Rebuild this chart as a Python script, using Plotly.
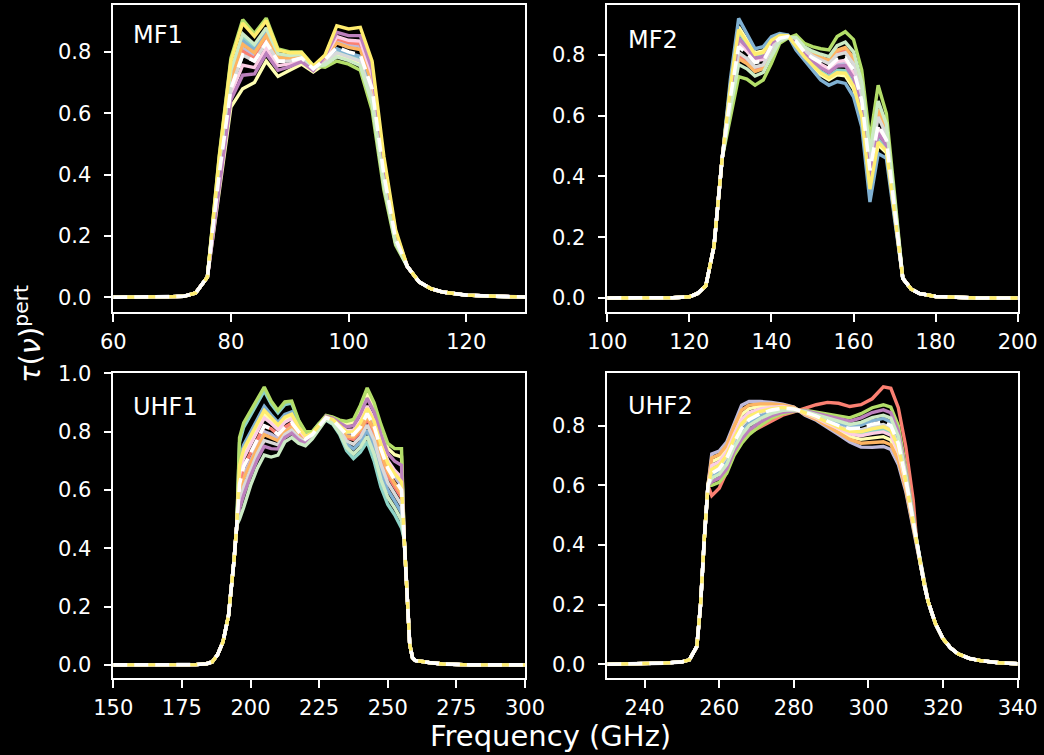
import plotly.graph_objects as go

SET3 = ["#8dd3c7", "#ffffb3", "#bebada", "#fb8072", "#80b1d3", "#fdb462",
        "#b3de69", "#fccde5", "#d9d9d9", "#bc80bd", "#ccebc5", "#ffed6f"]

# ---------------- MF1 ----------------
mf1_f_lo = [60, 64, 68, 70, 72, 74, 76]
mf1_y_lo = [0.0, 0.0, 0.001, 0.002, 0.003, 0.014, 0.066]
mf1_f_band = [78, 80, 82, 84, 86, 88, 90, 92, 94, 96, 98, 100, 102, 104, 106, 108]
mf1_f_hi = [110, 112, 114, 116, 120, 125, 130]
mf1_y_hi = [0.10, 0.05, 0.028, 0.017, 0.007, 0.003, 0.001]
mf1_nominal = [0.40, 0.68, 0.79, 0.77, 0.83, 0.77, 0.77, 0.78, 0.745, 0.775, 0.815, 0.80, 0.79, 0.68, 0.40, 0.19]
mf1_curves = [
    [0.43, 0.73, 0.848, 0.815, 0.87, 0.79, 0.785, 0.79, 0.75, 0.768, 0.80, 0.788, 0.775, 0.659, 0.385, 0.184],
    [0.34, 0.62, 0.68, 0.70, 0.77, 0.72, 0.74, 0.76, 0.735, 0.76, 0.788, 0.776, 0.76, 0.638, 0.37, 0.178],
    [0.412, 0.70, 0.813, 0.788, 0.846, 0.778, 0.776, 0.784, 0.747, 0.78, 0.836, 0.823, 0.817, 0.707, 0.418, 0.199],
    [0.406, 0.69, 0.802, 0.779, 0.838, 0.774, 0.773, 0.782, 0.746, 0.781, 0.843, 0.83, 0.826, 0.716, 0.424, 0.202],
    [0.424, 0.72, 0.836, 0.806, 0.862, 0.786, 0.782, 0.788, 0.749, 0.773, 0.81, 0.796, 0.785, 0.673, 0.395, 0.188],
    [0.418, 0.71, 0.825, 0.797, 0.854, 0.782, 0.779, 0.786, 0.748, 0.778, 0.829, 0.815, 0.808, 0.698, 0.412, 0.196],
    [0.46, 0.78, 0.905, 0.86, 0.91, 0.81, 0.80, 0.80, 0.755, 0.75, 0.77, 0.76, 0.74, 0.61, 0.35, 0.17],
    [0.382, 0.662, 0.757, 0.749, 0.812, 0.755, 0.761, 0.774, 0.742, 0.783, 0.85, 0.838, 0.835, 0.725, 0.43, 0.205],
    [0.40, 0.68, 0.79, 0.77, 0.83, 0.77, 0.77, 0.78, 0.745, 0.765, 0.797, 0.784, 0.77, 0.652, 0.38, 0.182],
    [0.364, 0.644, 0.724, 0.728, 0.794, 0.74, 0.752, 0.768, 0.739, 0.786, 0.864, 0.853, 0.853, 0.743, 0.442, 0.211],
    [0.436, 0.74, 0.859, 0.824, 0.878, 0.794, 0.788, 0.792, 0.751, 0.758, 0.784, 0.772, 0.755, 0.631, 0.365, 0.176],
    [0.454, 0.77, 0.894, 0.851, 0.902, 0.806, 0.797, 0.798, 0.754, 0.79, 0.885, 0.875, 0.88, 0.77, 0.46, 0.22],
]

# ---------------- MF2 ----------------
mf2_f_lo = [100, 110, 116, 120, 122, 124, 126, 128]
mf2_y_lo = [0.0, 0.0, 0.001, 0.004, 0.015, 0.04, 0.17, 0.46]
mf2_f_band = [130, 132, 134, 136, 138, 140, 142, 144, 146, 148, 150, 152, 154, 156, 158, 160, 162, 164, 166, 168, 170]
mf2_f_hi = [172, 174, 176, 180, 185, 190, 200]
mf2_y_hi = [0.065, 0.03, 0.015, 0.005, 0.002, 0.0, 0.0]
mf2_nominal = [0.66, 0.827, 0.805, 0.775, 0.78, 0.83, 0.855, 0.86, 0.845, 0.81, 0.79, 0.775, 0.76, 0.785, 0.79, 0.75, 0.65, 0.42, 0.57, 0.52, 0.30]
mf2_curves = [
    [0.69, 0.874, 0.838, 0.798, 0.804, 0.845, 0.863, 0.863, 0.831, 0.797, 0.77, 0.746, 0.73, 0.749, 0.748, 0.706, 0.607, 0.368, 0.523, 0.49, 0.28],
    [0.702, 0.892, 0.851, 0.807, 0.813, 0.851, 0.866, 0.864, 0.825, 0.791, 0.762, 0.734, 0.718, 0.734, 0.731, 0.688, 0.589, 0.347, 0.504, 0.478, 0.272],
    [0.672, 0.846, 0.818, 0.784, 0.789, 0.836, 0.858, 0.861, 0.839, 0.805, 0.782, 0.763, 0.748, 0.770, 0.773, 0.732, 0.633, 0.399, 0.551, 0.508, 0.292],
    [0.642, 0.797, 0.78, 0.753, 0.761, 0.813, 0.85, 0.859, 0.851, 0.818, 0.801, 0.789, 0.777, 0.808, 0.816, 0.78, 0.68, 0.45, 0.609, 0.546, 0.312],
    [0.72, 0.92, 0.87, 0.82, 0.827, 0.86, 0.87, 0.865, 0.816, 0.783, 0.75, 0.717, 0.70, 0.712, 0.706, 0.662, 0.563, 0.316, 0.475, 0.46, 0.26],
    [0.636, 0.787, 0.771, 0.745, 0.755, 0.807, 0.848, 0.858, 0.853, 0.821, 0.805, 0.793, 0.782, 0.815, 0.824, 0.79, 0.69, 0.46, 0.622, 0.555, 0.316],
    [0.60, 0.728, 0.72, 0.70, 0.717, 0.772, 0.838, 0.855, 0.865, 0.838, 0.827, 0.82, 0.816, 0.86, 0.876, 0.85, 0.75, 0.52, 0.70, 0.607, 0.34],
    [0.666, 0.836, 0.812, 0.78, 0.785, 0.833, 0.857, 0.86, 0.842, 0.807, 0.786, 0.769, 0.754, 0.778, 0.782, 0.741, 0.641, 0.41, 0.56, 0.514, 0.296],
    [0.648, 0.807, 0.788, 0.76, 0.767, 0.818, 0.852, 0.859, 0.849, 0.816, 0.797, 0.784, 0.771, 0.80, 0.807, 0.77, 0.67, 0.44, 0.596, 0.537, 0.308],
    [0.678, 0.855, 0.825, 0.789, 0.794, 0.839, 0.86, 0.862, 0.836, 0.802, 0.778, 0.758, 0.742, 0.763, 0.765, 0.724, 0.624, 0.389, 0.542, 0.502, 0.288],
    [0.624, 0.768, 0.754, 0.73, 0.742, 0.795, 0.845, 0.857, 0.857, 0.827, 0.812, 0.802, 0.794, 0.83, 0.842, 0.81, 0.71, 0.48, 0.648, 0.572, 0.324],
    [0.696, 0.883, 0.844, 0.802, 0.808, 0.848, 0.864, 0.863, 0.828, 0.794, 0.766, 0.74, 0.724, 0.741, 0.74, 0.697, 0.598, 0.358, 0.513, 0.484, 0.276],
]

# ---------------- UHF1 ----------------
uhf1_f_lo = [150, 160, 170, 180, 184, 186, 188, 190, 192, 193, 194, 195]
uhf1_y_lo = [0.0, 0.0, 0.0, 0.001, 0.004, 0.01, 0.035, 0.08, 0.17, 0.26, 0.36, 0.48]
uhf1_f_band = [196, 197.5, 200, 202.5, 205, 207.5, 210, 212.5, 215, 217.5, 220, 222.5, 225,
               227.5, 230, 232.5, 235, 237.5, 240, 242.5, 245, 247.5, 250, 252.5, 255]
uhf1_f_hi = [256, 257, 258, 259, 260, 265, 270, 280, 300]
uhf1_y_hi = [0.43, 0.25, 0.07, 0.025, 0.015, 0.008, 0.003, 0.0, 0.0]
uhf1_nominal = [0.62, 0.68, 0.725, 0.775, 0.82, 0.81, 0.79, 0.815, 0.83, 0.80, 0.775, 0.79, 0.82,
                0.848, 0.84, 0.815, 0.79, 0.79, 0.815, 0.862, 0.82, 0.74, 0.675, 0.635, 0.60]
uhf1_curves = [
    [0.764, 0.815, 0.856, 0.901, 0.94, 0.896, 0.865, 0.893, 0.898, 0.836, 0.798, 0.799, 0.829, 0.84, 0.825, 0.79, 0.735, 0.708, 0.73, 0.765, 0.70, 0.61, 0.55, 0.515, 0.47],
    [0.668, 0.725, 0.769, 0.817, 0.86, 0.839, 0.815, 0.841, 0.853, 0.812, 0.783, 0.793, 0.823, 0.854, 0.848, 0.835, 0.826, 0.832, 0.875, 0.932, 0.884, 0.808, 0.743, 0.721, 0.714],
    [0.596, 0.652, 0.703, 0.755, 0.80, 0.791, 0.776, 0.805, 0.82, 0.792, 0.77, 0.787, 0.818, 0.849, 0.841, 0.818, 0.795, 0.795, 0.823, 0.871, 0.828, 0.749, 0.684, 0.646, 0.614],
    [0.62, 0.68, 0.725, 0.775, 0.82, 0.81, 0.79, 0.815, 0.83, 0.80, 0.775, 0.79, 0.82, 0.846, 0.837, 0.81, 0.779, 0.774, 0.798, 0.843, 0.796, 0.714, 0.65, 0.611, 0.574],
    [0.70, 0.755, 0.798, 0.845, 0.887, 0.858, 0.832, 0.859, 0.868, 0.82, 0.788, 0.795, 0.825, 0.843, 0.831, 0.80, 0.757, 0.741, 0.764, 0.804, 0.748, 0.662, 0.60, 0.563, 0.522],
    [0.584, 0.638, 0.692, 0.745, 0.79, 0.781, 0.769, 0.80, 0.815, 0.788, 0.768, 0.786, 0.817, 0.847, 0.839, 0.813, 0.785, 0.782, 0.807, 0.852, 0.808, 0.727, 0.663, 0.623, 0.587],
    [0.78, 0.83, 0.87, 0.915, 0.953, 0.905, 0.873, 0.902, 0.905, 0.84, 0.80, 0.80, 0.83, 0.856, 0.85, 0.84, 0.835, 0.842, 0.89, 0.95, 0.90, 0.825, 0.76, 0.742, 0.742],
    [0.652, 0.71, 0.754, 0.803, 0.847, 0.829, 0.807, 0.832, 0.845, 0.808, 0.78, 0.792, 0.822, 0.85, 0.843, 0.823, 0.804, 0.806, 0.838, 0.888, 0.844, 0.766, 0.701, 0.667, 0.643],
    [0.56, 0.61, 0.67, 0.725, 0.77, 0.762, 0.755, 0.79, 0.805, 0.78, 0.764, 0.783, 0.815, 0.845, 0.834, 0.805, 0.768, 0.757, 0.781, 0.823, 0.772, 0.688, 0.625, 0.587, 0.548],
    [0.536, 0.582, 0.648, 0.705, 0.75, 0.742, 0.741, 0.78, 0.795, 0.772, 0.759, 0.78, 0.813, 0.853, 0.846, 0.83, 0.817, 0.821, 0.86, 0.915, 0.868, 0.791, 0.726, 0.699, 0.685],
    [0.50, 0.54, 0.615, 0.675, 0.72, 0.713, 0.72, 0.765, 0.78, 0.76, 0.752, 0.775, 0.81, 0.842, 0.828, 0.795, 0.746, 0.724, 0.747, 0.784, 0.724, 0.636, 0.575, 0.539, 0.496],
    [0.684, 0.74, 0.783, 0.831, 0.873, 0.848, 0.823, 0.85, 0.86, 0.816, 0.785, 0.794, 0.824, 0.85, 0.842, 0.82, 0.799, 0.80, 0.83, 0.88, 0.836, 0.757, 0.692, 0.656, 0.628],
]

# ---------------- UHF2 ----------------
uhf2_f_lo = [230, 240, 245, 250, 252, 254, 255, 256, 257]
uhf2_y_lo = [0.0, 0.002, 0.004, 0.008, 0.015, 0.06, 0.20, 0.42, 0.60]
uhf2_f_band = [258, 260, 262, 264, 266, 268, 271, 274, 277, 280, 283, 286, 289, 292, 295, 298, 301, 304, 306, 308, 310, 312]
uhf2_f_hi = [313, 314, 315, 316, 317, 318, 320, 322, 324, 327, 330, 335, 340]
uhf2_y_hi = [0.40, 0.33, 0.265, 0.21, 0.17, 0.135, 0.085, 0.055, 0.035, 0.02, 0.012, 0.005, 0.002]
uhf2_nominal = [0.64, 0.655, 0.69, 0.745, 0.79, 0.82, 0.84, 0.852, 0.858, 0.856, 0.845, 0.832, 0.815, 0.80, 0.79, 0.792, 0.805, 0.812, 0.80, 0.74, 0.62, 0.48]
uhf2_curves = [
    [0.66, 0.673, 0.707, 0.765, 0.813, 0.838, 0.852, 0.86, 0.862, 0.858, 0.842, 0.828, 0.809, 0.791, 0.777, 0.773, 0.782, 0.787, 0.776, 0.719, 0.608, 0.474],
    [0.679, 0.691, 0.723, 0.784, 0.837, 0.857, 0.865, 0.868, 0.866, 0.86, 0.839, 0.824, 0.803, 0.782, 0.763, 0.754, 0.758, 0.763, 0.752, 0.698, 0.596, 0.468],
    [0.705, 0.715, 0.745, 0.81, 0.868, 0.881, 0.881, 0.878, 0.872, 0.862, 0.835, 0.818, 0.795, 0.77, 0.745, 0.728, 0.727, 0.73, 0.72, 0.67, 0.58, 0.46],
    [0.565, 0.59, 0.645, 0.712, 0.765, 0.775, 0.795, 0.815, 0.835, 0.846, 0.859, 0.87, 0.878, 0.875, 0.864, 0.87, 0.89, 0.93, 0.925, 0.86, 0.73, 0.55],
    [0.632, 0.646, 0.68, 0.736, 0.78, 0.81, 0.832, 0.847, 0.854, 0.854, 0.846, 0.835, 0.82, 0.806, 0.797, 0.802, 0.816, 0.824, 0.812, 0.752, 0.628, 0.484],
    [0.692, 0.703, 0.734, 0.797, 0.852, 0.869, 0.873, 0.873, 0.869, 0.861, 0.837, 0.821, 0.799, 0.776, 0.754, 0.741, 0.743, 0.746, 0.736, 0.684, 0.588, 0.464],
    [0.60, 0.61, 0.64, 0.70, 0.74, 0.77, 0.80, 0.825, 0.84, 0.848, 0.852, 0.845, 0.84, 0.832, 0.826, 0.84, 0.86, 0.87, 0.862, 0.80, 0.66, 0.50],
    [0.666, 0.679, 0.712, 0.771, 0.821, 0.844, 0.856, 0.862, 0.864, 0.858, 0.841, 0.826, 0.807, 0.788, 0.772, 0.766, 0.774, 0.779, 0.768, 0.712, 0.604, 0.472],
    [0.647, 0.661, 0.696, 0.752, 0.798, 0.826, 0.844, 0.855, 0.859, 0.857, 0.844, 0.831, 0.813, 0.797, 0.786, 0.786, 0.797, 0.804, 0.792, 0.733, 0.616, 0.478],
    [0.612, 0.624, 0.655, 0.714, 0.755, 0.785, 0.812, 0.833, 0.845, 0.85, 0.85, 0.841, 0.833, 0.822, 0.815, 0.826, 0.844, 0.853, 0.843, 0.782, 0.648, 0.494],
    [0.624, 0.637, 0.67, 0.727, 0.77, 0.80, 0.824, 0.841, 0.851, 0.853, 0.848, 0.837, 0.825, 0.813, 0.804, 0.811, 0.827, 0.835, 0.825, 0.764, 0.636, 0.488],
    [0.653, 0.667, 0.701, 0.758, 0.806, 0.832, 0.848, 0.857, 0.861, 0.857, 0.843, 0.829, 0.811, 0.794, 0.781, 0.779, 0.789, 0.796, 0.784, 0.726, 0.612, 0.476],
]

band_names = ["MF1", "MF2", "UHF1", "UHF2"]
x_ticks = [[60, 80, 100, 120], [100, 120, 140, 160, 180, 200],
           [150, 175, 200, 225, 250, 275, 300], [240, 260, 280, 300, 320, 340]]
x_ranges = [[60, 130], [100, 200], [150, 300], [230, 340]]
y_ranges = [[-0.048, 0.953], [-0.046, 0.964], [-0.046, 1.002], [-0.047, 0.977]]
y_ticks = [[0, 0.2, 0.4, 0.6, 0.8], [0, 0.2, 0.4, 0.6, 0.8],
           [0, 0.2, 0.4, 0.6, 0.8, 1.0], [0, 0.2, 0.4, 0.6, 0.8]]

bands = [
    (mf1_f_lo, mf1_y_lo, mf1_f_band, mf1_f_hi, mf1_y_hi, mf1_nominal, mf1_curves),
    (mf2_f_lo, mf2_y_lo, mf2_f_band, mf2_f_hi, mf2_y_hi, mf2_nominal, mf2_curves),
    (uhf1_f_lo, uhf1_y_lo, uhf1_f_band, uhf1_f_hi, uhf1_y_hi, uhf1_nominal, uhf1_curves),
    (uhf2_f_lo, uhf2_y_lo, uhf2_f_band, uhf2_f_hi, uhf2_y_hi, uhf2_nominal, uhf2_curves),
]

fig = go.Figure()
for k, (f_lo, y_lo, f_band, f_hi, y_hi, nominal, curves) in enumerate(bands):
    xa = "x" if k == 0 else f"x{k+1}"
    ya = "y" if k == 0 else f"y{k+1}"
    fx = f_lo + f_band + f_hi
    for i, c in enumerate(curves):
        fig.add_trace(go.Scatter(x=fx, y=y_lo + c + y_hi, mode="lines",
                                 line=dict(color=SET3[i % len(SET3)], width=3.4),
                                 xaxis=xa, yaxis=ya, showlegend=False, hoverinfo="skip"))
    fig.add_trace(go.Scatter(x=fx, y=y_lo + nominal + y_hi, mode="lines",
                             line=dict(color="white", width=3.6, dash="14px,7px"),
                             xaxis=xa, yaxis=ya, showlegend=False, hoverinfo="skip"))

FONT = "DejaVu Sans"
x_dom = [[0.1085, 0.5029], [0.5817, 0.9748], [0.1085, 0.5029], [0.5817, 0.9748]]
y_dom = [[0.5868, 0.9934], [0.5868, 0.9934], [0.1016, 0.5062], [0.1016, 0.5062]]

common = dict(showline=True, mirror=True, linecolor="white", linewidth=1.5,
              ticks="outside", tickcolor="white", tickwidth=1.5, ticklen=8,
              showgrid=False, zeroline=False, automargin=False,
              tickfont=dict(color="white", size=21, family=FONT))

layout = {}
for k in range(4):
    xname = "xaxis" if k == 0 else f"xaxis{k+1}"
    yname = "yaxis" if k == 0 else f"yaxis{k+1}"
    layout[xname] = dict(common, domain=x_dom[k], range=x_ranges[k], tickvals=x_ticks[k],
                         anchor="y" if k == 0 else f"y{k+1}", ticklabelstandoff=2)
    layout[yname] = dict(common, domain=y_dom[k], range=y_ranges[k], tickvals=y_ticks[k],
                         tickformat=".1f", anchor="x" if k == 0 else f"x{k+1}",
                         ticklabelstandoff=8)

label_pos = [(0.1250, 0.953), (0.5995, 0.9474), (0.1256, 0.4603), (0.5995, 0.4623)]
annotations = []
for name, (px, py) in zip(band_names, label_pos):
    annotations.append(dict(text=name, x=px, y=py, xref="paper", yref="paper",
                            xanchor="left", yanchor="middle", showarrow=False,
                            font=dict(color="white", size=24, family=FONT)))
annotations.append(dict(text="Frequency (GHz)", x=550 / 1044, y=0.0, xref="paper", yref="paper",
                        xanchor="center", yanchor="bottom", showarrow=False,
                        font=dict(color="white", size=29, family=FONT)))
annotations.append(dict(text="<i>τ</i>(<i>ν</i>)<sup>pert</sup>", x=28 / 1044, y=(755 - 334) / 755,
                        xref="paper", yref="paper", xanchor="center", yanchor="middle",
                        textangle=-90, showarrow=False,
                        font=dict(color="white", size=29, family=FONT)))

fig.update_layout(width=1044, height=755, margin=dict(l=0, r=0, t=0, b=0, pad=0),
                  paper_bgcolor="black", plot_bgcolor="black",
                  annotations=annotations, **layout)

fig.write_html("out.html", config={"displayModeBar": False},
               post_script="document.body.style.margin='0';document.body.style.background='black';"
                           "document.body.style.overflow='hidden';")
